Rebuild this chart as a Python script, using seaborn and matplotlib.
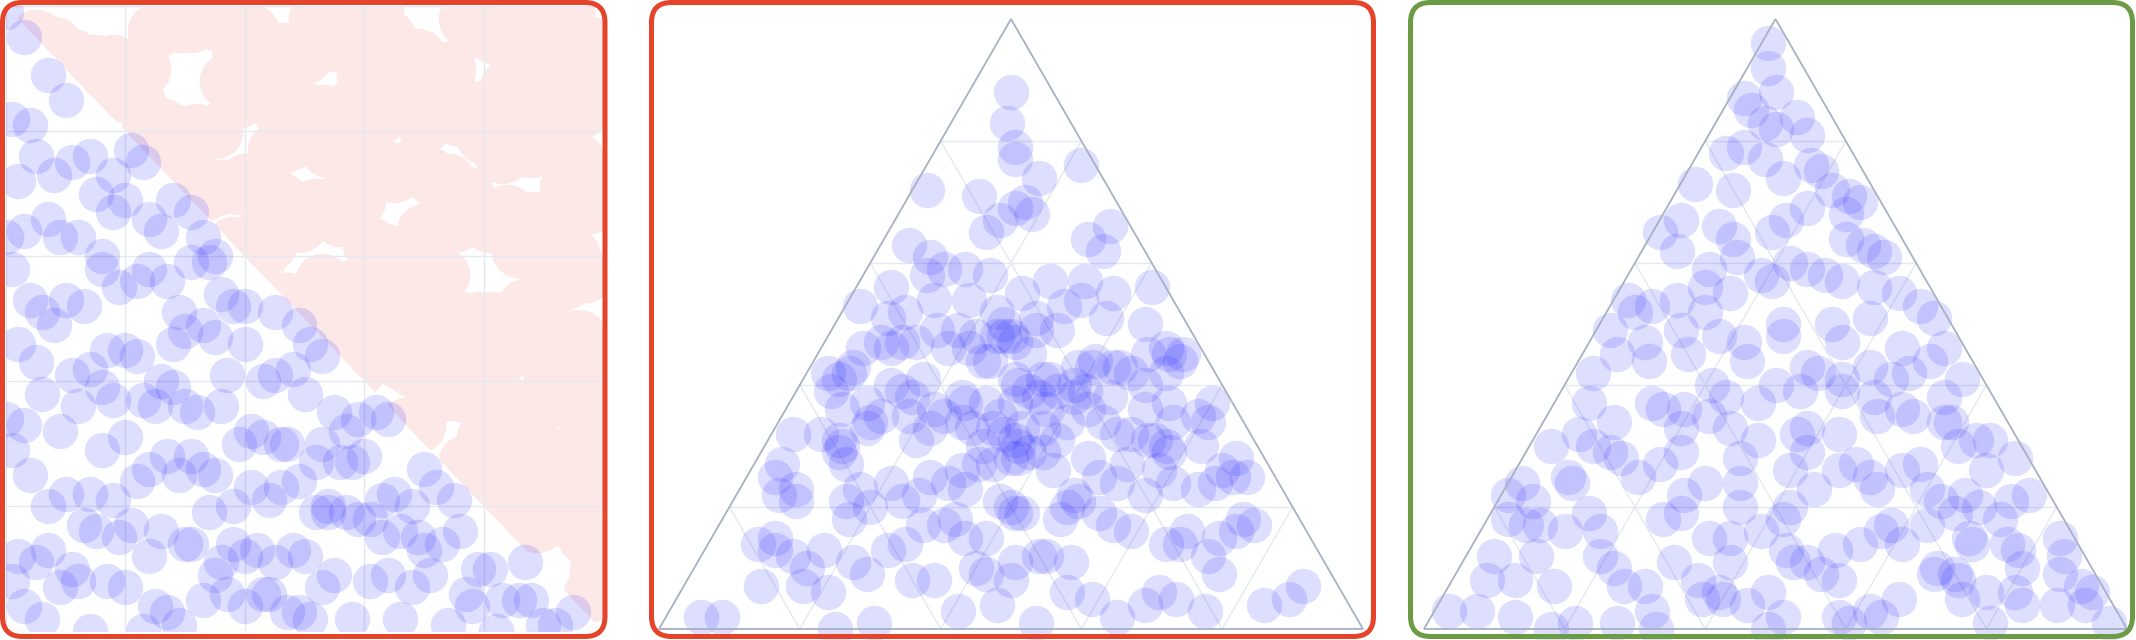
import numpy as np
import pandas as pd
import matplotlib
matplotlib.use("Agg")
import matplotlib.pyplot as plt
import seaborn as sns
from matplotlib.patches import FancyBboxPatch, Polygon
from matplotlib.transforms import IdentityTransform

# panel 1: samples in the unit square (percent), accepted when x + y < 100
sq_x = [
    3, 17, 29, 44, 58, 71, 86, 95, 9, 23, 37, 51, 64, 78, 90, 12, 33, 47, 68, 82, 6, 20, 40, 55, 74, 98, 27, 61, 88, 14, 35, 49, 77, 92, 1, 25, 53, 66, 83, 43,
    7, 21, 36, 52, 63, 79, 93, 2, 15, 31, 45, 57, 70, 84, 97, 11, 26, 40, 59, 73, 89, 5, 19, 34, 48, 66, 81, 94, 24, 38, 54, 69, 87, 13, 42, 61, 76, 99, 30, 50,
    4, 18, 27, 41, 56, 68, 82, 96, 10, 33, 46, 60, 75, 89, 1, 22, 38, 52, 65, 79, 92, 14, 29, 44, 58, 72, 86, 7, 24, 49, 63, 77, 98, 16, 35, 54, 70, 84, 31, 90,
    9, 25, 39, 50, 64, 80, 94, 3, 16, 32, 47, 59, 73, 87, 12, 28, 43, 55, 69, 83, 97, 6, 20, 36, 53, 67, 91, 18, 41, 62, 76, 88, 0, 30, 46, 71, 85, 23, 57, 99,
    2, 14, 30, 45, 57, 72, 88, 99, 8, 22, 37, 51, 66, 80, 93, 17, 33, 48, 62, 77, 91, 5, 26, 40, 59, 70, 85, 11, 35, 53, 68, 96, 20, 43, 61, 82, 28, 74, 49, 64,
    6, 19, 34, 47, 61, 76, 90, 1, 13, 27, 42, 55, 69, 83, 97, 10, 24, 38, 53, 65, 79, 94, 4, 31, 45, 58, 73, 87, 16, 36, 50, 67, 81, 22, 40, 63, 92, 29, 71, 56,
    3, 16, 31, 44, 59, 73, 86, 98, 9, 24, 38, 52, 66, 81, 93, 12, 28, 41, 56, 70, 84, 0, 20, 35, 49, 63, 78, 90, 7, 26, 46, 61, 75, 95, 18, 33, 54, 68, 88, 43,
    8, 21, 36, 50, 62, 77, 91, 2, 14, 29, 43, 57, 71, 85, 97, 11, 25, 40, 54, 67, 80, 94, 5, 18, 33, 47, 60, 74, 88, 23, 39, 52, 65, 83, 15, 31, 58, 72, 96, 45,
    1, 15, 28, 42, 58, 70, 84, 96, 7, 22, 35, 49, 63, 76, 90, 12, 26, 39, 53, 67, 81, 93, 4, 19, 32, 46, 60, 74, 88, 10, 37, 55, 69, 99, 24, 44, 79, 17, 62, 86,
    5, 18, 33, 46, 60, 74, 89, 0, 11, 25, 39, 52, 66, 80, 94, 8, 21, 36, 50, 64, 77, 91, 3, 15, 29, 43, 57, 71, 85, 98, 13, 31, 48, 62, 82, 23, 41, 69, 87, 55,
]
sq_y = [
    4, 8, 1, 6, 2, 9, 5, 3, 7, 0, 6, 2, 9, 4, 1, 8, 5, 3, 7, 0, 2, 7, 4, 9, 1, 6, 3, 8, 5, 0, 9, 3, 6, 1, 8, 4, 7, 2, 5, 6,
    13, 17, 11, 19, 15, 10, 18, 12, 16, 14, 11, 19, 13, 17, 15, 10, 16, 12, 18, 14, 17, 11, 15, 19, 13, 16, 10, 18, 12, 14, 19, 15, 11, 17, 13, 18, 16, 10, 14, 12,
    25, 21, 28, 23, 27, 20, 24, 29, 22, 26, 23, 28, 21, 25, 29, 24, 20, 27, 22, 26, 28, 22, 25, 21, 27, 23, 29, 20, 26, 24, 21, 27, 23, 29, 25, 20, 26, 22, 28, 24,
    32, 36, 30, 38, 34, 31, 37, 33, 39, 35, 30, 34, 38, 32, 36, 39, 31, 35, 33, 37, 34, 38, 31, 36, 30, 33, 39, 37, 32, 35, 38, 31, 34, 36, 30, 39, 33, 37, 32, 35,
    46, 42, 48, 41, 45, 40, 47, 43, 49, 44, 41, 46, 43, 48, 40, 45, 49, 42, 47, 44, 48, 43, 40, 46, 42, 49, 45, 41, 47, 44, 42, 47, 45, 40, 48, 43, 46, 41, 49, 44,
    51, 55, 59, 53, 57, 50, 54, 58, 52, 56, 59, 51, 55, 50, 57, 53, 58, 52, 56, 54, 50, 56, 53, 59, 51, 55, 57, 52, 58, 54, 53, 59, 50, 56, 52, 57, 55, 51, 58, 54,
    64, 60, 67, 62, 69, 65, 61, 68, 63, 66, 62, 68, 60, 65, 67, 63, 69, 61, 66, 64, 67, 63, 69, 60, 65, 61, 68, 62, 66, 64, 69, 62, 65, 60, 67, 63, 68, 61, 66, 64,
    73, 77, 71, 79, 75, 70, 78, 72, 76, 74, 70, 76, 73, 79, 71, 75, 78, 72, 77, 74, 79, 71, 76, 73, 70, 78, 74, 72, 77, 75, 71, 79, 73, 76, 70, 78, 74, 72, 75, 77,
    82, 86, 80, 88, 84, 81, 87, 83, 89, 85, 80, 84, 88, 82, 86, 89, 81, 85, 83, 87, 84, 88, 81, 86, 80, 83, 89, 87, 82, 85, 88, 81, 84, 86, 80, 89, 83, 87, 82, 85,
    95, 91, 98, 93, 97, 90, 94, 99, 92, 96, 93, 98, 91, 96, 99, 94, 90, 97, 92, 95, 98, 92, 95, 91, 97, 93, 99, 90, 96, 94, 91, 97, 93, 99, 95, 90, 96, 92, 98, 94,
]

# panel 2: normalised samples (percent of top and right corner)
norm_top = [
    2, 5, 8, 1, 4, 7, 9, 3, 6, 0, 5, 8, 2, 7, 4, 9, 1, 6, 3, 8, 5, 2, 7, 4, 9, 6,
    12, 15, 18, 11, 14, 17, 19, 13, 16, 10, 12, 15, 18, 11, 14, 17, 19, 13, 16, 10, 12, 15, 18, 11, 14, 17, 19, 13, 16, 15, 12, 18, 14, 17,
    22, 25, 28, 21, 24, 27, 29, 23, 26, 20, 22, 25, 28, 21, 24, 27, 29, 23, 26, 20, 22, 25, 28, 21, 24, 27, 29, 23, 26, 20,
    22, 25, 28, 21, 24, 27, 29, 23, 26, 24, 21, 27, 25,
    32, 35, 38, 31, 34, 37, 39, 33, 36, 30, 33, 36, 30, 38, 32, 35, 31, 39, 34, 37, 31, 34, 37, 30, 33, 36, 39, 32, 35, 38,
    36, 30, 33, 39, 35, 31, 38, 34, 32, 37, 35, 38, 32, 30, 37, 34, 31, 36, 39, 33, 34, 31, 37, 33,
    42, 45, 48, 41, 44, 47, 49, 43, 46, 40, 44, 41, 47, 43, 49, 40, 46, 42, 48, 45, 40, 43, 46, 49, 42, 45, 48, 41, 44, 47,
    45, 48, 41, 46, 43, 40, 47, 42, 44, 49, 43, 46, 41,
    52, 55, 58, 51, 54, 57, 59, 53, 56, 50, 52, 55, 58, 51, 54, 57, 53, 56, 50, 59, 54, 51,
    62, 65, 68, 71, 74, 77, 61, 64, 67, 70, 63, 66, 69, 72, 76, 79, 83, 88,
]
norm_right = [
    8, 87, 46, 30, 67, 17, 75, 41, 55, 25, 71, 32, 64, 11, 84, 42, 53, 21, 76, 35, 59, 5, 88, 46, 25, 68,
    13, 72, 33, 53, 28, 56, 42, 17, 67, 40, 49, 9, 74, 45, 7, 76, 41, 26, 59, 16, 72, 36, 48, 22, 65, 29, 53, 10, 74, 39, 48, 18, 67, 32,
    48, 4, 68, 38, 21, 53, 11, 65, 30, 48, 26, 50, 37, 16, 61, 32, 40, 8, 67, 40, 6, 69, 36, 24, 53, 13, 58, 32, 43, 20,
    58, 26, 47, 9, 67, 34, 38, 17, 58, 29, 49, 4, 71,
    33, 18, 45, 10, 56, 25, 37, 22, 43, 36, 13, 51, 31, 35, 7, 59, 35, 5, 61, 32, 21, 46, 11, 57, 28, 37, 15, 51, 23, 40,
    8, 62, 31, 33, 14, 54, 24, 41, 3, 60, 31, 17, 49, 11, 54, 26, 41, 21, 41, 35, 13, 55, 28, 38,
    6, 50, 26, 5, 52, 27, 15, 40, 10, 49, 24, 34, 13, 43, 18, 39, 6, 51, 24, 30, 13, 44, 21, 32, 3, 52, 25, 17, 40, 8,
    47, 21, 35, 18, 38, 31, 11, 46, 25, 29, 6, 49, 30,
    9, 37, 18, 28, 12, 32, 14, 31, 5, 44, 22, 24, 9, 38, 17, 27, 2, 42, 24, 11, 33, 7,
    32, 14, 19, 10, 17, 12, 8, 29, 15, 17, 4, 31, 16, 2, 22, 11, 8, 6,
]

# panel 3: uniform samples on the simplex (percent of top and right corner)
unif_top = [
    3, 7, 1, 5, 9, 2, 6, 4, 8, 0, 6, 2, 9, 4, 1, 8, 5, 3, 7, 0, 2, 7, 4, 9, 1, 6, 3, 8, 5, 0, 9, 3, 6, 1, 8, 4, 7, 2, 5, 6, 1, 8,
    12, 16, 11, 18, 14, 19, 13, 17, 10, 15, 11, 14, 18, 12, 16, 19, 13, 17, 15, 10, 18, 12, 15, 11, 17, 14, 19, 16, 13, 10, 15, 18, 12, 16, 11, 14, 17,
    21, 25, 28, 23, 27, 20, 24, 29, 22, 26, 25, 21, 28, 24, 20, 27, 23, 29, 26, 22, 28, 24, 20, 26, 22, 29, 25, 21, 27, 23, 24, 26, 22,
    32, 36, 31, 38, 34, 30, 37, 33, 39, 35, 31, 34, 38, 32, 36, 30, 37, 33, 39, 35, 34, 31, 37, 32, 36, 38, 30, 33, 35,
    42, 45, 48, 41, 44, 47, 40, 43, 46, 49, 41, 44, 47, 42, 45, 48, 40, 43, 46, 49, 44, 41, 47, 42,
    52, 55, 58, 51, 54, 57, 50, 53, 56, 59, 51, 54, 57, 52, 55, 58, 50, 53, 56, 59,
    62, 65, 68, 61, 64, 67, 60, 63, 66, 69, 61, 64, 67, 62, 65,
    72, 75, 78, 71, 74, 77, 70, 73, 76, 79, 72, 82, 85, 88, 81, 84, 87, 83, 92, 96,
]
unif_right = [
    2, 15, 27, 40, 52, 64, 77, 88, 9, 33, 46, 58, 71, 83, 21, 5, 37, 62, 90, 49, 12, 25, 44, 68, 80, 92, 31, 55, 74, 18, 86, 6, 39, 60, 72, 92, 28, 50, 65, 81, 97, 35,
    4, 17, 30, 42, 55, 66, 78, 8, 22, 36, 49, 61, 73, 85, 12, 27, 45, 58, 70, 80, 3, 19, 33, 47, 63, 76, 14, 40, 52, 68, 83, 25, 10, 57, 38, 71, 6,
    5, 18, 31, 44, 57, 69, 2, 12, 26, 39, 51, 63, 70, 9, 35, 48, 60, 22, 67, 75, 14, 28, 42, 55, 66, 40, 8, 73, 20, 53, 33, 46, 1,
    6, 19, 32, 45, 58, 3, 14, 27, 40, 52, 63, 10, 24, 37, 50, 61, 5, 20, 34, 47, 57, 65, 29, 43, 16, 55, 9, 38, 23,
    3, 15, 27, 39, 50, 8, 21, 33, 45, 12, 56, 24, 36, 48, 5, 18, 30, 42, 51, 2, 10, 46, 22, 35,
    4, 16, 28, 38, 9, 21, 33, 44, 12, 25, 47, 2, 31, 14, 40, 19, 26, 6, 36, 11,
    5, 17, 26, 35, 12, 3, 22, 31, 9, 20, 14, 28, 18, 33, 1,
    8, 19, 4, 25, 14, 10, 27, 2, 17, 6, 22, 9, 4, 6, 14, 11, 2, 7, 3, 1,
]

W, H = 2136, 640
BLUE = "#1a1aff"
PINK = "#fde8e8"
RED = "#e5432a"
GREEN = "#6c9a45"
EDGE = "#a7b1c2"
GRID = "#e4e8ef"
SQ3 = np.sqrt(3) / 2
DOT = 650      # marker area of a sample (pt^2)
DOT_ALPHA = 0.14

fig = plt.figure(figsize=(W / 100, H / 100), dpi=100)


def px_axes(left, top, width, height):
    return fig.add_axes([left / W, (H - top - height) / H, width / W, height / H])


# ---- panel 1: rejection in the square
df = pd.DataFrame({"x": np.array(sq_x) / 100, "y": np.array(sq_y) / 100})
df["keep"] = df.x + df.y < 1

ax1 = px_axes(6, 6, 597, 625)
ax1.set_xlim(0, 1)
ax1.set_ylim(0, 1)
sns.scatterplot(data=df[~df.keep], x="x", y="y", ax=ax1, color=PINK, s=1600,
                alpha=1, linewidth=0, zorder=0.3, legend=False)
upper = Polygon([(0, 1), (1, 1), (1, 0)], closed=True, transform=ax1.transData)
ax1.collections[-1].set_clip_path(upper)
sns.scatterplot(data=df[df.keep], x="x", y="y", ax=ax1, color=BLUE, s=DOT,
                alpha=DOT_ALPHA, linewidth=0, zorder=1, legend=False)
ax1.set_xticks(np.arange(0, 1.01, 0.2))
ax1.set_yticks(np.arange(0, 1.01, 0.2))
ax1.set_axisbelow(True)
ax1.grid(True, color=GRID, lw=1)
ax1.tick_params(length=0, labelbottom=False, labelleft=False)
ax1.set_xlabel("")
ax1.set_ylabel("")
for sp in ax1.spines.values():
    sp.set_visible(False)


# ---- panels 2 and 3: ternary
def ternary(ax, top, right):
    t = np.array(top) / 100
    r = np.array(right) / 100
    pts = pd.DataFrame({"x": r + t / 2, "y": t * SQ3})
    for f in (0.2, 0.4, 0.6, 0.8):
        g = 1 - f
        ax.plot([f / 2, 1 - f / 2], [f * SQ3, f * SQ3], color=GRID, lw=1, zorder=0.5)
        ax.plot([f, f + g / 2], [0, g * SQ3], color=GRID, lw=1, zorder=0.5)
        ax.plot([g, g / 2], [0, g * SQ3], color=GRID, lw=1, zorder=0.5)
    sns.scatterplot(data=pts, x="x", y="y", ax=ax, color=BLUE, s=DOT, alpha=DOT_ALPHA,
                    linewidth=0, zorder=1, legend=False, clip_on=False)
    ax.add_patch(Polygon([(0, 0), (1, 0), (0.5, SQ3)], closed=True, fill=False,
                         edgecolor=EDGE, lw=1.3, zorder=2, clip_on=False))
    ax.set_xlim(0, 1)
    ax.set_ylim(0, SQ3)
    ax.axis("off")


ax2 = px_axes(659, 19, 704, 610)
ternary(ax2, norm_top, norm_right)
ax3 = px_axes(1424, 19, 703, 610)
ternary(ax3, unif_top, unif_right)

# rounded panel frames (pixel coordinates)
for x0, w, col in [(2.5, 602.5, RED), (651.5, 722, RED), (1410.5, 722, GREEN)]:
    fig.add_artist(FancyBboxPatch((x0, 3.5), w, 634,
                                  boxstyle="round,pad=0,rounding_size=20",
                                  transform=IdentityTransform(), fill=False,
                                  edgecolor=col, linewidth=3.6))

fig.savefig("out.png", dpi=100)
